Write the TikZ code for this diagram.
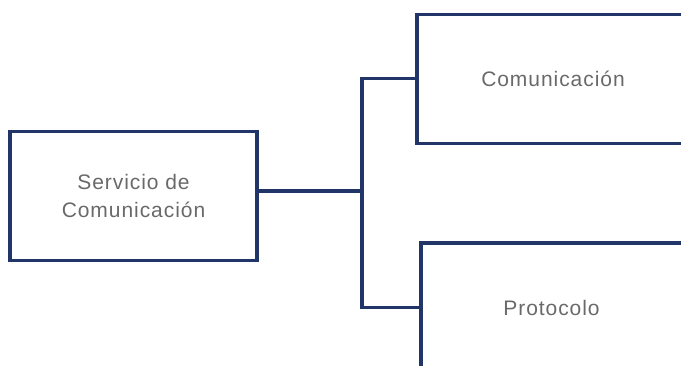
\documentclass[tikz,border=0pt]{standalone}
\usepackage{fontspec}
\setmainfont[LetterSpace=4.5]{Liberation Sans}
\definecolor{navy}{RGB}{33,53,105}
\definecolor{txtgray}{RGB}{105,105,105}
\begin{document}
\begin{tikzpicture}[x=1bp,y=-1bp,
  box/.style={draw=navy, line width=3.2bp, rectangle, minimum height=129bp, inner sep=0pt,
    text=txtgray, font=\fontsize{21bp}{28.5bp}\selectfont, align=center},
  conn/.style={draw=navy, line width=3.2bp}]
\useasboundingbox (0,0) rectangle (681,365);
\clip (0,0) rectangle (681,365);
\node[box, minimum width=247bp] (L) at (133.5,195.8) {Servicio de\\Comunicación};
\node[box, minimum width=272bp] (T) at (553,78.8) {Comunicación};
\node[box, minimum width=280bp] (B) at (561,307.5) {Protocolo\hspace*{19bp}};
\coordinate (j) at (362,191);
\draw[conn] (L.east |- j) -- (j);
\draw[conn, line join=miter] (T.west) -- (j |- T.west) -- (j |- B.west) -- (B.west);
\end{tikzpicture}
\end{document}
